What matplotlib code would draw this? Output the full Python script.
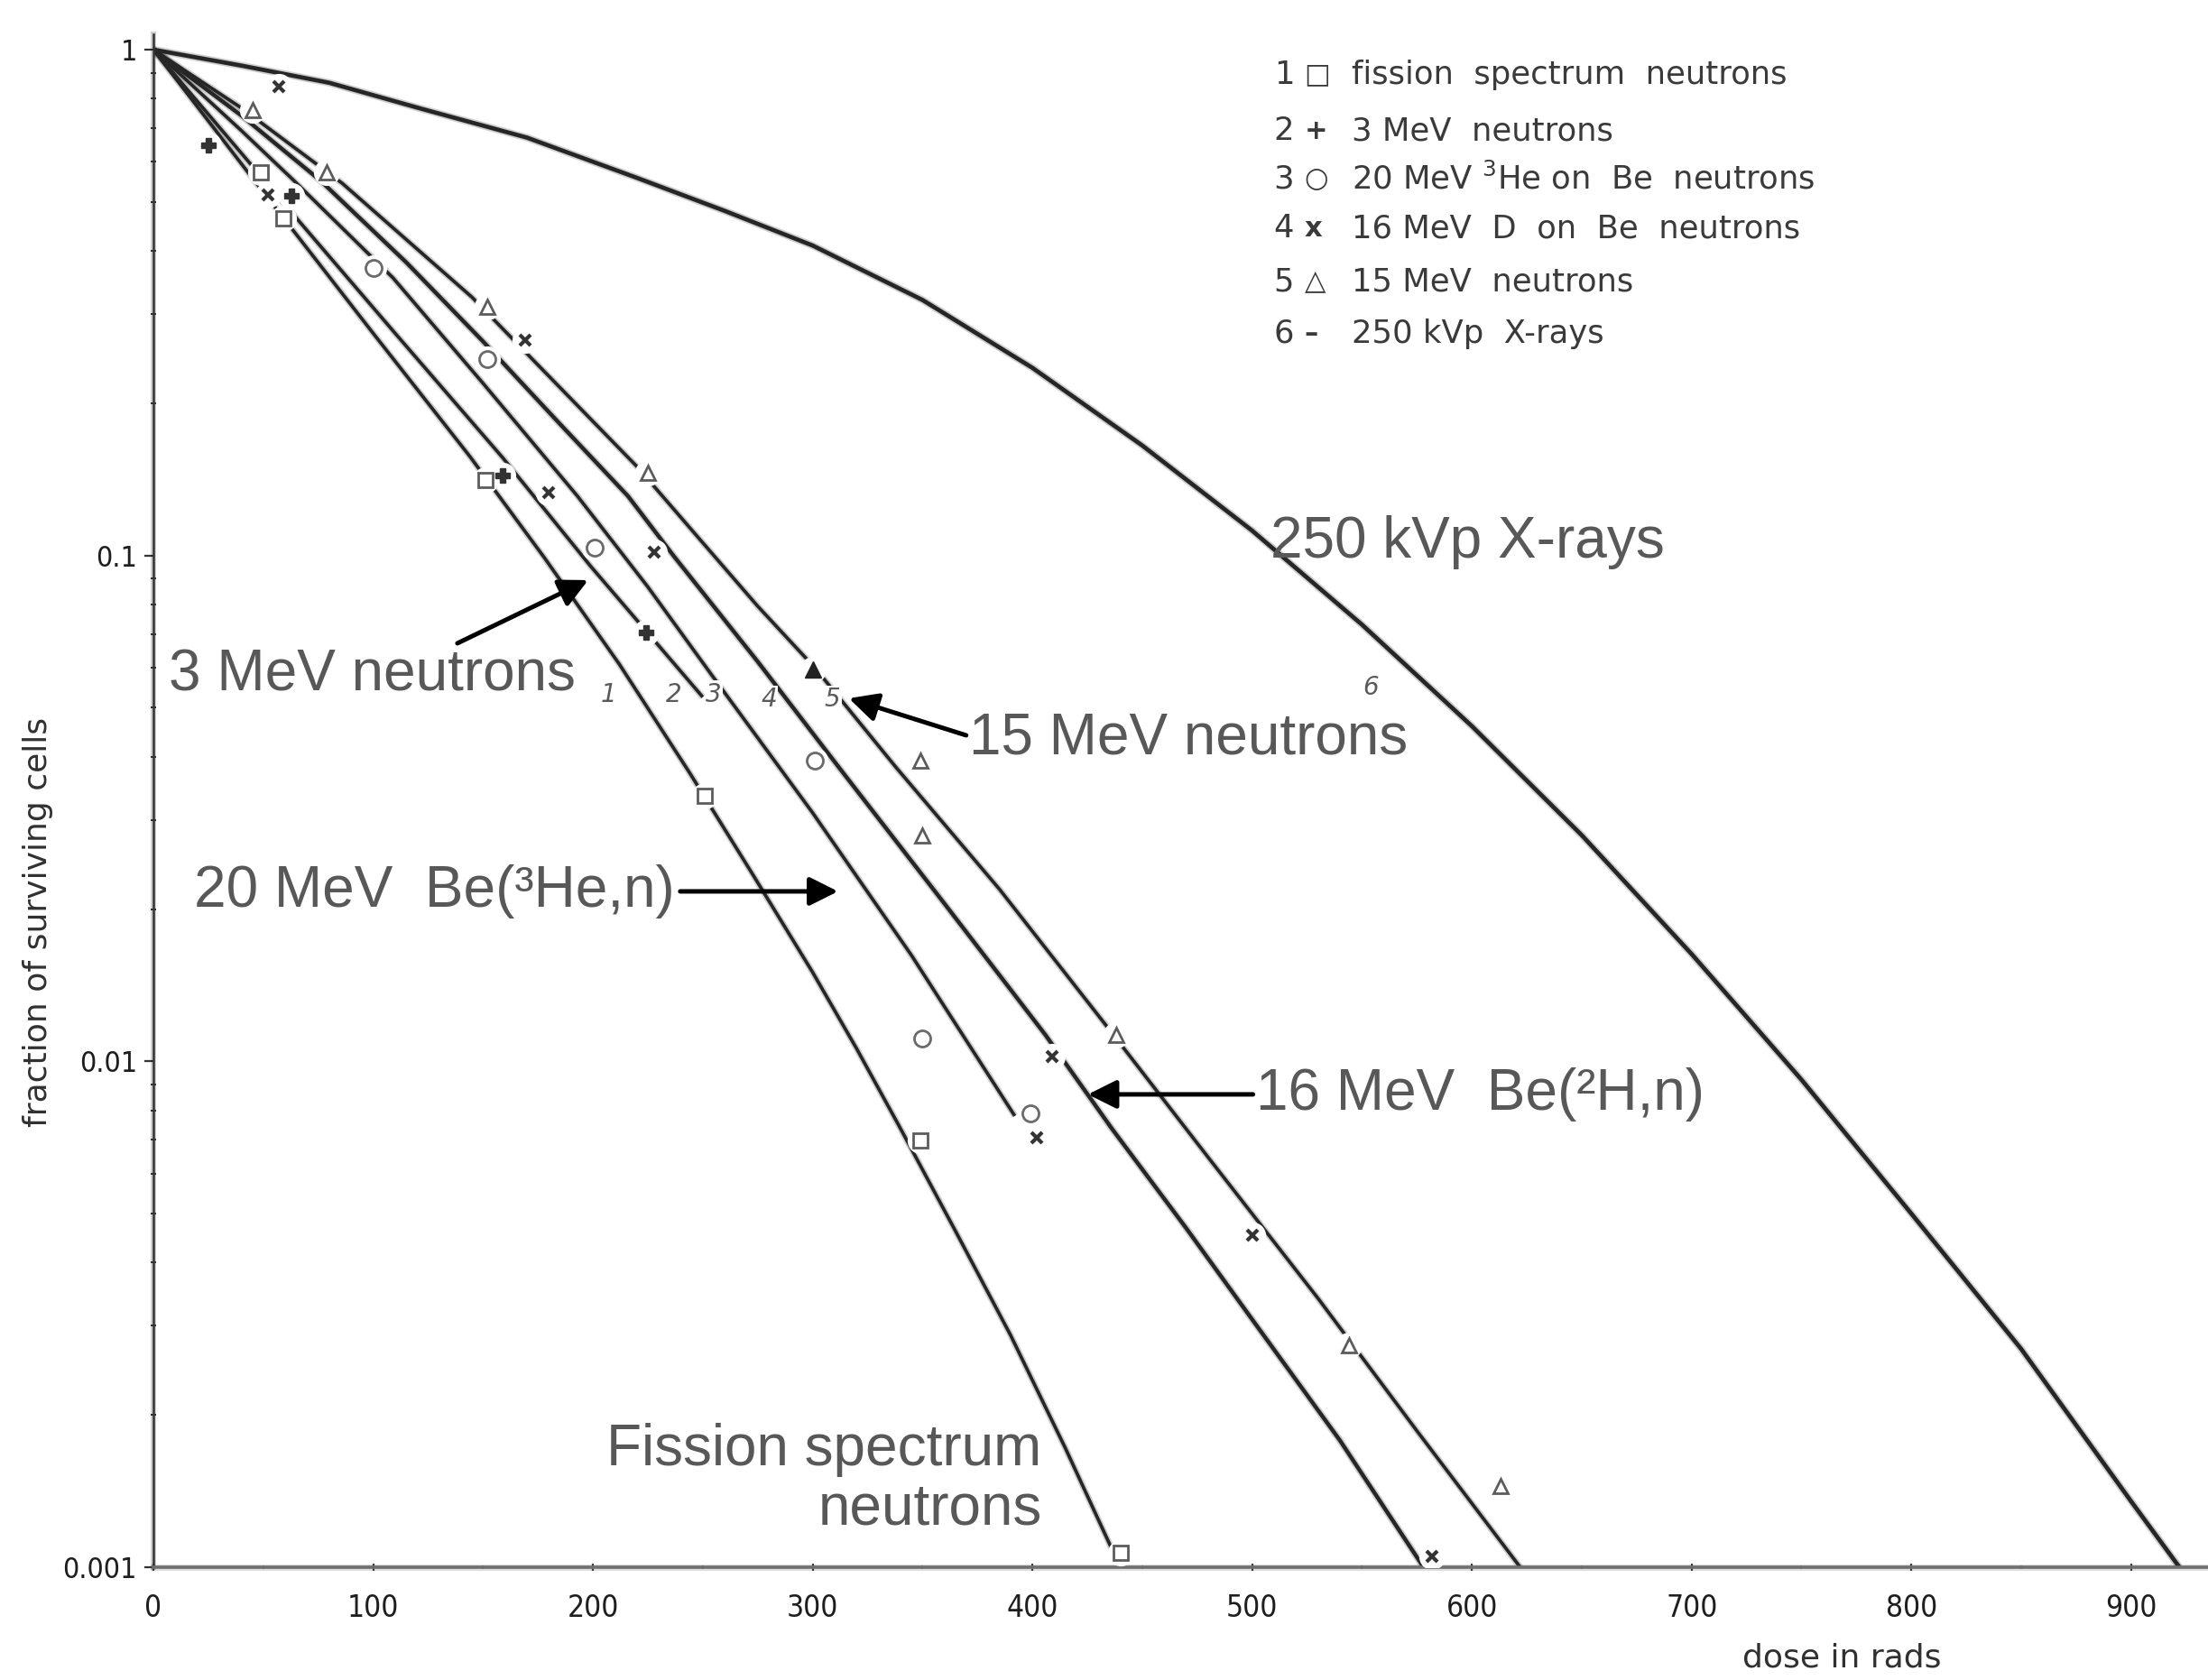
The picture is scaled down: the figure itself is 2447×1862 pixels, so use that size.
import matplotlib
matplotlib.use('Agg')
import matplotlib.pyplot as plt
import matplotlib.patheffects as pe
from matplotlib.ticker import LogLocator, NullFormatter

# ---- survival curves (dose in rads, surviving fraction) ----
fission_dose = [0, 44, 64, 100, 144, 178, 212, 244, 272, 300, 320, 339, 365, 390, 415, 440]
fission_surv = [1.0, 0.565, 0.437, 0.275, 0.157, 0.0989, 0.0610, 0.0372, 0.0237, 0.0150,
                0.0106, 0.0075, 0.00462, 0.00288, 0.00172, 0.001]

mev3_dose = [0, 68, 110, 159, 199, 250]
mev3_surv = [1.0, 0.449, 0.275, 0.156, 0.0952, 0.0525]

he3_dose = [0, 40, 63, 109, 150, 193, 225, 254, 300, 345, 392]
he3_surv = [1.0, 0.692, 0.556, 0.354, 0.219, 0.131, 0.0867, 0.0581, 0.0310, 0.0162, 0.0078]

d_be_dose = [0, 40, 76, 115, 150, 185, 216, 237, 275, 312, 360, 406, 436, 470, 500, 540, 578]
d_be_surv = [1.0, 0.741, 0.551, 0.380, 0.265, 0.182, 0.131, 0.0995, 0.0617, 0.0381, 0.0205,
             0.01127, 0.00738, 0.00468, 0.00309, 0.00178, 0.001]

mev15_dose = [0, 40, 86, 145, 173, 220, 246, 275, 301, 338, 385, 435, 480, 530, 575, 622]
mev15_surv = [1.0, 0.767, 0.544, 0.324, 0.243, 0.150, 0.111, 0.0794, 0.0600, 0.0381, 0.0219,
              0.01156, 0.00646, 0.0034, 0.00186, 0.001]

xray_dose = [0, 40, 80, 122, 170, 220, 260, 300, 350, 400, 450, 500, 550, 600, 650, 700,
             750, 800, 850, 900, 922]
xray_surv = [1.0, 0.93, 0.86, 0.764, 0.67, 0.558, 0.48, 0.41, 0.32, 0.235, 0.165, 0.112, 0.073,
             0.046, 0.028, 0.0163, 0.0092, 0.0050, 0.0027, 0.00135, 0.001]

# ---- measured points ----
sq_dose = [49, 59, 151, 251, 349, 440]
sq_surv = [0.573, 0.464, 0.141, 0.0335, 0.00697, 0.00107]

plus_dose = [25, 63, 159, 224]
plus_surv = [0.647, 0.514, 0.144, 0.0704]

circ_dose = [100, 152, 201, 301, 350, 399]
circ_surv = [0.370, 0.244, 0.1035, 0.0393, 0.0111, 0.0079]

x_dose = [57, 52, 169, 180, 228, 409, 402, 500, 582]
x_surv = [0.846, 0.517, 0.267, 0.133, 0.1015, 0.01023, 0.00706, 0.00454, 0.00105]

tri_dose = [45, 79, 152, 225, 349, 350, 438, 544, 613]
tri_surv = [0.759, 0.573, 0.310, 0.146, 0.0393, 0.0280, 0.01127, 0.00275, 0.00145]

dark_tri_dose = [300]
dark_tri_surv = [0.0596]

# curve numbers written next to the lines
num_labels = ['1', '2', '3', '4', '5', '6']
num_dose = [207, 237, 255, 280, 309, 554]
num_surv = [0.0531, 0.0531, 0.0531, 0.052, 0.052, 0.0548]

x_ticks = [0, 100, 200, 300, 400, 500, 600, 700, 800, 900]
y_ticks = [1, 0.1, 0.01, 0.001]
y_tick_labels = ['1', '0.1', '0.01', '0.001']

key_numbers = ['1', '2', '3', '4', '5', '6']
key_symbols = ['\u25a1', '+', '\u25cb', 'x', '\u25b3', '\u2013']
key_texts = ['fission  spectrum  neutrons', '3 MeV  neutrons',
             '20 MeV $^{3}$He on  Be  neutrons', '16 MeV  D  on  Be  neutrons',
             '15 MeV  neutrons', '250 kVp  X-rays']

W, H = 2447, 1862
INK = '#262626'
NOTE = '#585858'
OLD_FONT = 'DejaVu Sans'
NEW_FONT = 'Liberation Sans'


def px(x, y):
    # pixel position on the sheet -> data coordinates of the axes below
    return (x - 170) / 2.436, 10 ** (-(y - 55) / 560.7)


def soft(lw, color=INK, alpha=0.22):
    return [pe.Stroke(linewidth=lw + 2.5, foreground=color, alpha=alpha), pe.Normal()]


fig = plt.figure(figsize=(W / 100, H / 100), dpi=100)
ax = fig.add_axes([170 / W, 125 / H, (W - 170) / W, (1737 - 38.2) / H])
ax.set_yscale('log')
ax.set_xlim(0, 935)
ax.set_ylim(1e-3, 10 ** 0.03)

# fitted curves
curves = [
    (fission_dose, fission_surv, 2.7),
    (mev3_dose, mev3_surv, 2.7),
    (he3_dose, he3_surv, 2.7),
    (d_be_dose, d_be_surv, 3.2),
    (mev15_dose, mev15_surv, 2.7),
    (xray_dose, xray_surv, 3.4),
]
for d, s, lw in curves:
    ax.plot(d, s, color=INK, lw=lw, solid_capstyle='butt', solid_joinstyle='round',
            path_effects=soft(lw), zorder=2)

# white gaps in the lines around the data points
for d, s in [(sq_dose, sq_surv), (plus_dose, plus_surv), (circ_dose, circ_surv),
             (x_dose, x_surv), (tri_dose, tri_surv), (dark_tri_dose, dark_tri_surv)]:
    ax.plot(d, s, ls='none', marker='o', ms=20, mfc='white', mec='white', zorder=3)

ax.plot(sq_dose, sq_surv, ls='none', marker='s', ms=12, mfc='white', mec='#5c5c5c', mew=2.0, zorder=4)
ax.plot(plus_dose, plus_surv, ls='none', marker='P', ms=11, mfc='#333', mec='#333', zorder=4)
ax.plot(circ_dose, circ_surv, ls='none', marker='o', ms=13, mfc='white', mec='#6a6a6a', mew=2.0, zorder=4)
ax.plot(x_dose, x_surv, ls='none', marker='x', ms=9, mec='#333', mew=3.0, zorder=4)
ax.plot(tri_dose, tri_surv, ls='none', marker='^', ms=12, mfc='white', mec='#5c5c5c', mew=2.0, zorder=4)
ax.plot(dark_tri_dose, dark_tri_surv, ls='none', marker='^', ms=13, mfc='#222', mec='#222', zorder=4)

for lab, d, s in zip(num_labels, num_dose, num_surv):
    ax.text(d, s, lab, fontsize=20, color='#5a5a5a', style='italic', family=OLD_FONT,
            ha='center', va='center', zorder=5,
            bbox=dict(fc='white', ec='none', pad=1.0))

# axes, ticks
for side in ['top', 'right']:
    ax.spines[side].set_visible(False)
ax.spines['left'].set_color('#333')
ax.spines['left'].set_linewidth(1.8)
ax.spines['bottom'].set_color('#6e6e6e')
ax.spines['bottom'].set_linewidth(2.6)
ax.spines['left'].set_path_effects(soft(1.8))
ax.spines['bottom'].set_path_effects(soft(2.6, alpha=0.15))

ax.set_xticks(x_ticks)
ax.set_xticklabels([str(t) for t in x_ticks], fontsize=24, family=OLD_FONT,
                   fontstretch='condensed', color='#1e1e1e')
ax.set_xticks(range(50, 935, 100), minor=True)
ax.set_yticks(y_ticks)
ax.set_yticklabels(y_tick_labels, fontsize=23, family=OLD_FONT,
                   fontstretch='condensed', color='#1e1e1e')
ax.yaxis.set_minor_locator(LogLocator(base=10, subs=range(2, 10)))
ax.yaxis.set_minor_formatter(NullFormatter())
ax.tick_params(axis='x', which='major', length=6, width=1.6, direction='inout', pad=18, color='#444')
ax.tick_params(axis='x', which='minor', length=3, width=1.2, direction='inout', color='#777')
ax.tick_params(axis='y', which='major', length=7, width=1.6, direction='out', pad=6, color='#333')
ax.tick_params(axis='y', which='minor', length=5, width=1.4, direction='inout', color='#333')

fig.text(42 / W, 1 - 1022 / H, 'fraction of surviving cells', rotation=90, fontsize=26,
         family=OLD_FONT, color='#303030', ha='center', va='center')
fig.text(2041 / W, 1 - 1838 / H, 'dose in rads', fontsize=26, family=OLD_FONT,
         color='#303030', ha='center', va='center')

# key in the upper right corner
key_rows = [83, 145, 198, 253, 312, 370]
for num, sym, txt, row in zip(key_numbers, key_symbols, key_texts, key_rows):
    ax.text(*px(1412, row), num, fontsize=25.5, family=OLD_FONT, color='#3a3a3a',
            ha='left', va='center')
    ax.text(*px(1446, row), sym, fontsize=22, family=OLD_FONT, color='#3a3a3a',
            ha='left', va='center', fontweight='bold')
    ax.text(*px(1498, row), txt, fontsize=25.5, family=OLD_FONT, color='#3a3a3a',
            ha='left', va='center')

# labels added on top of the curves
note = dict(fontsize=46, family=NEW_FONT, color=NOTE, va='center', zorder=6)
ax.text(*px(1408, 601), '250 kVp X-rays', ha='left', **note)
ax.text(*px(187, 749), '3 MeV neutrons', ha='left', **note)
ax.text(*px(1074, 819), '15 MeV neutrons', ha='left', **note)
ax.text(*px(215, 988), '20 MeV  Be(\u00b3He,n)', ha='left', **note)
ax.text(*px(1392, 1213), '16 MeV  Be(\u00b2H,n)', ha='left', **note)
ax.text(*px(1155, 1607), 'Fission spectrum', ha='right', **note)
ax.text(*px(1155, 1673), 'neutrons', ha='right', **note)

arrow = dict(arrowstyle='-|>', lw=3.6, color='black', mutation_scale=48, shrinkA=0, shrinkB=0)
ax.annotate('', xy=px(652, 643), xytext=px(507, 713), arrowprops=arrow, zorder=6)
ax.annotate('', xy=px(941, 774), xytext=px(1071, 815), arrowprops=arrow, zorder=6)
ax.annotate('', xy=px(929, 988), xytext=px(754, 988), arrowprops=arrow, zorder=6)
ax.annotate('', xy=px(1206, 1213), xytext=px(1389, 1213), arrowprops=arrow, zorder=6)

fig.savefig('out.png', dpi=100)
